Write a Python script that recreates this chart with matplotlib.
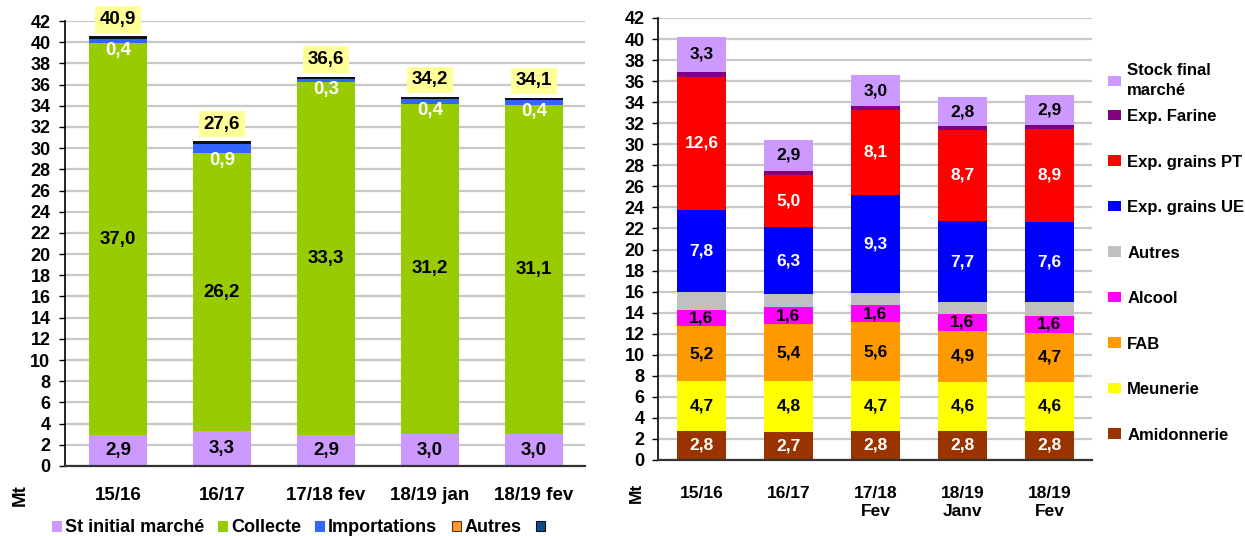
import matplotlib
matplotlib.use('Agg')
from matplotlib import pyplot as pl
from matplotlib.patches import Patch
import numpy as np

pl.rcParams['font.family'] = ['Liberation Sans', 'DejaVu Sans']
pl.rcParams['font.weight'] = 'bold'

# left chart data
left_cats = ['15/16', '16/17', '17/18 fev', '18/19 jan', '18/19 fev']
st_initial = [2.9, 3.3, 2.9, 3.0, 3.0]
collecte = [37.0, 26.2, 33.3, 31.2, 31.1]
importations = [0.4, 0.9, 0.3, 0.4, 0.4]
autres_left = [0.0, 0.0, 0.0, 0.0, 0.0]
top_line = [0.25, 0.25, 0.25, 0.25, 0.25]
totals = [40.9, 27.6, 36.6, 34.2, 34.1]

# right chart data
right_cats = ['15/16', '16/17', '17/18\nFev', '18/19\nJanv', '18/19\nFev']
amidonnerie = [2.8, 2.7, 2.8, 2.8, 2.8]
meunerie = [4.7, 4.8, 4.7, 4.6, 4.6]
fab = [5.2, 5.4, 5.6, 4.9, 4.7]
alcool = [1.6, 1.6, 1.6, 1.6, 1.6]
autres_right = [1.7, 1.3, 1.2, 1.1, 1.3]
exp_ue = [7.8, 6.3, 9.3, 7.7, 7.6]
exp_pt = [12.6, 5.0, 8.1, 8.7, 8.9]
exp_farine = [0.5, 0.4, 0.3, 0.3, 0.3]
stock_final = [3.3, 2.9, 3.0, 2.8, 2.9]


def fmt(v):
    return ('%.1f' % v).replace('.', ',')


def style_axis(ax, xlim, fs, xpad, ypad):
    ax.set_ylim(0, 42)
    ax.set_xlim(*xlim)
    ax.set_yticks(np.arange(0, 43, 2))
    ax.yaxis.grid(True, color='#c8c8c8', linewidth=1.6)
    ax.set_axisbelow(True)
    for s in ['top', 'right']:
        ax.spines[s].set_visible(False)
    ax.spines['left'].set_linewidth(1.2)
    ax.spines['bottom'].set_linewidth(1.6)
    ax.spines['bottom'].set_color('#333333')
    ax.tick_params(axis='y', length=4.5, width=1, labelsize=13, pad=ypad)
    ax.tick_params(axis='x', length=0, labelsize=fs, pad=xpad)
    for lab in ax.get_xticklabels() + ax.get_yticklabels():
        lab.set_fontweight('bold')


fig = pl.figure(figsize=(12.45, 5.36), dpi=100)

# ---- left chart
fsl = 13.5
ax = fig.add_axes([65 / 1245, 70 / 536, 520 / 1245, 445 / 536])
x = np.arange(len(left_cats))
w = 0.55
series = [
    (st_initial, '#cc99ff', 'St initial marché'),
    (collecte, '#99cc00', 'Collecte'),
    (importations, '#3366ff', 'Importations'),
    (autres_left, '#ff9933', 'Autres'),
    (top_line, '#111111', ''),
]
bottom = np.zeros(len(x))
for vals, col, lab in series:
    ax.bar(x, vals, w, bottom=bottom, color=col, linewidth=0)
    bottom = bottom + np.array(vals)

for i in range(len(x)):
    ax.text(x[i], st_initial[i] / 2, fmt(st_initial[i]), ha='center',
            va='center', fontsize=fsl, fontweight='bold', color='black')
    ax.text(x[i], st_initial[i] + collecte[i] / 2, fmt(collecte[i]),
            ha='center', va='center', fontsize=fsl, fontweight='bold')
    ax.text(x[i], st_initial[i] + collecte[i] - 0.65, fmt(importations[i]),
            ha='center', va='center', fontsize=fsl, fontweight='bold',
            color='white')
    ax.text(x[i], bottom[i] + 1.6, fmt(totals[i]), ha='center', va='center',
            fontsize=fsl, fontweight='bold', clip_on=False,
            bbox=dict(boxstyle='square,pad=0.25', fc='#ffff99', ec='none'))

ax.set_xticks(x)
ax.set_xticklabels(left_cats)
style_axis(ax, (-0.51, 4.49), fsl, 15, 6)
fig.text(20 / 1245, 1 - 495 / 536, 'Mt', rotation=90, ha='center',
         va='center', fontsize=fsl, fontweight='bold')

handles = []
for _, c, l in series:
    ec = '#663300' if l == 'Autres' else c
    handles.append(Patch(facecolor=c, edgecolor=ec, linewidth=0.8, label=l))
handles[-1] = Patch(facecolor='#0b4f8a', edgecolor='#111111', linewidth=0.8,
                    label=' ')
fig.legend(handles=handles, loc='center left', ncol=5,
           bbox_to_anchor=(52 / 1245, 1 - 528 / 536), frameon=False,
           fontsize=13, handlelength=0.5, handleheight=0.5,
           handletextpad=0.2, columnspacing=0.8, borderpad=0,
           borderaxespad=0)

# ---- right chart
fsr = 12.5
ax2 = fig.add_axes([658 / 1245, 76 / 536, 434 / 1245, 442 / 536])
x2 = np.arange(len(right_cats))
w2 = 0.56
rseries = [
    (amidonnerie, '#993300', 'Amidonnerie', 'white'),
    (meunerie, '#ffff00', 'Meunerie', 'black'),
    (fab, '#ff9900', 'FAB', 'black'),
    (alcool, '#ff00ff', 'Alcool', 'black'),
    (autres_right, '#c0c0c0', 'Autres', None),
    (exp_ue, '#0000ff', 'Exp. grains UE', 'white'),
    (exp_pt, '#ff0000', 'Exp. grains PT', 'white'),
    (exp_farine, '#800080', 'Exp. Farine', None),
    (stock_final, '#cc99ff', 'Stock final marché', 'black'),
]
bottom = np.zeros(len(x2))
rhandles = []
for vals, col, lab, tcol in rseries:
    ax2.bar(x2, vals, w2, bottom=bottom, color=col, linewidth=0)
    if tcol is not None:
        for i in range(len(x2)):
            ax2.text(x2[i], bottom[i] + vals[i] / 2, fmt(vals[i]),
                     ha='center', va='center', fontsize=fsr,
                     fontweight='bold', color=tcol)
    bottom = bottom + np.array(vals)
    rhandles.append(Patch(facecolor=col, label=lab))

ax2.set_xticks(x2)
ax2.set_xticklabels(right_cats, linespacing=1.25)
style_axis(ax2, (-0.5, 4.49), fsr, 19, 5)
fig.text(636 / 1245, 1 - 493 / 536, 'Mt', rotation=90, ha='center',
         va='center', fontsize=fsr, fontweight='bold')

rhandles = rhandles[::-1]
stock_h = rhandles[0]
stock_h.set_label('Stock final\nmarché')
leg = fig.legend(handles=[stock_h], loc='upper left',
                 bbox_to_anchor=(1108 / 1245, 1 - 63 / 536), frameon=False,
                 fontsize=12, handlelength=0.75, handleheight=0.6,
                 handletextpad=0.4, borderpad=0, borderaxespad=0)
for t in leg.get_texts():
    t.set_linespacing(1.45)
fig.legend(handles=rhandles[1:], loc='upper left',
           bbox_to_anchor=(1108 / 1245, 1 - 109 / 536), frameon=False,
           fontsize=12, handlelength=0.75, handleheight=0.6,
           handletextpad=0.4, labelspacing=1.83, borderpad=0,
           borderaxespad=0)

fig.savefig('out.png', dpi=100, facecolor='white')
